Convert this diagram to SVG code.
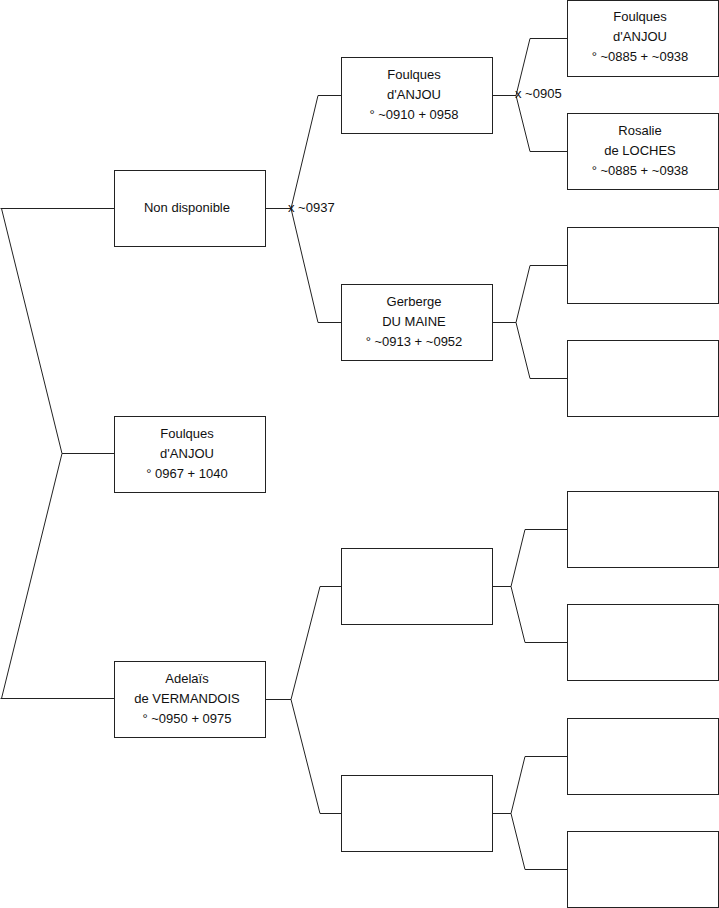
<svg xmlns="http://www.w3.org/2000/svg" width="719" height="908" viewBox="0 0 719 908">
<style>
.box{fill:#fff;stroke:#222;stroke-width:1}
.ln{fill:none;stroke:#222;stroke-width:1}
text{font-family:"Liberation Sans",Arial,sans-serif;font-size:13px;fill:#111}
.c{text-anchor:middle}
</style>
<rect width="719" height="908" fill="#fff"/>
<g id="connectors">
<path class="ln" d="M114 208.5 H0.5 M1.5 208.5 L62 453.5 L1.5 698.5 M0.5 698.5 H114 M62 453.5 H114"/>
<path class="ln" d="M265 208.5 H291 M318 95.5 L291 208.5 L318 322.5 M318 95.5 H341 M318 322.5 H341"/>
<path class="ln" d="M265 699.5 H291 M320 586.5 L291 699.5 L320 813.5 M320 586.5 H341 M320 813.5 H341"/>
<path class="ln" d="M492 95.5 H516 M530 38.5 L516 95.5 L530 151.5 M530 38.5 H567 M530 151.5 H567"/>
<path class="ln" d="M492 322.5 H516 M530 265.5 L516 322.5 L530 378.5 M530 265.5 H567 M530 378.5 H567"/>
<path class="ln" d="M492 586.5 H511 M525 529.5 L511 586.5 L525 642.5 M525 529.5 H567 M525 642.5 H567"/>
<path class="ln" d="M492 813.5 H511 M525 756.5 L511 813.5 L525 869.5 M525 756.5 H567 M525 869.5 H567"/>
<text x="288" y="212">x ~0937</text>
<text x="515" y="98">x ~0905</text>
</g>
<g id="n1"><rect class="box" x="114.5" y="170.5" width="151" height="76"/><text class="c" x="187" y="212">Non disponible</text></g>
<g id="n0"><rect class="box" x="114.5" y="416.5" width="151" height="76"/><text class="c" x="187" y="438">Foulques</text><text class="c" x="187" y="458">d'ANJOU</text><text class="c" x="187" y="478">° 0967 + 1040</text></g>
<g id="n2"><rect class="box" x="114.5" y="661.5" width="151" height="76"/><text class="c" x="187" y="683">Adelaïs</text><text class="c" x="187" y="703">de VERMANDOIS</text><text class="c" x="187" y="723">° ~0950 + 0975</text></g>
<g id="n3"><rect class="box" x="341.5" y="57.5" width="151" height="76"/><text class="c" x="414" y="79">Foulques</text><text class="c" x="414" y="99">d'ANJOU</text><text class="c" x="414" y="119">° ~0910 + 0958</text></g>
<g id="n4"><rect class="box" x="341.5" y="284.5" width="151" height="76"/><text class="c" x="414" y="306">Gerberge</text><text class="c" x="414" y="326">DU MAINE</text><text class="c" x="414" y="346">° ~0913 + ~0952</text></g>
<g id="n5"><rect class="box" x="341.5" y="548.5" width="151" height="76"/></g>
<g id="n6"><rect class="box" x="341.5" y="775.5" width="151" height="76"/></g>
<g id="n7"><rect class="box" x="567.5" y="0.5" width="151" height="76"/><text class="c" x="640" y="21">Foulques</text><text class="c" x="640" y="41">d'ANJOU</text><text class="c" x="640" y="61">° ~0885 + ~0938</text></g>
<g id="n8"><rect class="box" x="567.5" y="113.5" width="151" height="76"/><text class="c" x="640" y="135">Rosalie</text><text class="c" x="640" y="155">de LOCHES</text><text class="c" x="640" y="175">° ~0885 + ~0938</text></g>
<g id="n9"><rect class="box" x="567.5" y="227.5" width="151" height="76"/></g>
<g id="n10"><rect class="box" x="567.5" y="340.5" width="151" height="76"/></g>
<g id="n11"><rect class="box" x="567.5" y="491.5" width="151" height="76"/></g>
<g id="n12"><rect class="box" x="567.5" y="604.5" width="151" height="76"/></g>
<g id="n13"><rect class="box" x="567.5" y="718.5" width="151" height="76"/></g>
<g id="n14"><rect class="box" x="567.5" y="831.5" width="151" height="76"/></g>
</svg>
